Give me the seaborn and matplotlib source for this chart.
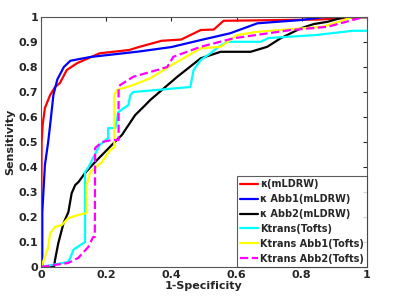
import pandas as pd
import seaborn as sns
import matplotlib.pyplot as plt

# ROC curves, (1-specificity, sensitivity)
red_x = [0, 0.001, 0.002, 0.005, 0.012, 0.028, 0.043, 0.058, 0.079, 0.11, 0.18, 0.27, 0.30, 0.37, 0.43, 0.49, 0.53, 0.56, 0.85, 1.0]
red_y = [0, 0.27, 0.50, 0.568, 0.636, 0.688, 0.72, 0.736, 0.788, 0.815, 0.855, 0.868, 0.88, 0.905, 0.91, 0.948, 0.95, 0.985, 0.99, 1.0]

blue_x = [0, 0.004, 0.004, 0.012, 0.022, 0.028, 0.038, 0.05, 0.07, 0.09, 0.15, 0.30, 0.40, 0.49, 0.58, 0.664, 0.797, 0.868, 1.0]
blue_y = [0, 0.0, 0.22, 0.408, 0.50, 0.568, 0.688, 0.75, 0.80, 0.825, 0.84, 0.862, 0.88, 0.908, 0.935, 0.975, 0.988, 1.0, 1.0]

black_x = [0, 0.04, 0.043, 0.053, 0.069, 0.084, 0.094, 0.105, 0.115, 0.135, 0.166, 0.217, 0.248, 0.289, 0.32, 0.335, 0.418, 0.49,
           0.551, 0.643, 0.694, 0.735, 0.797, 0.837, 0.879, 0.93, 1.0]
black_y = [0, 0.0, 0.028, 0.095, 0.175, 0.22, 0.295, 0.328, 0.34, 0.376, 0.42, 0.488, 0.528, 0.608, 0.648, 0.668, 0.761, 0.835,
           0.861, 0.861, 0.881, 0.915, 0.955, 0.972, 0.981, 1.0, 1.0]

cyan_x = [0, 0.083, 0.089, 0.10, 0.135, 0.135, 0.146, 0.18, 0.206, 0.206, 0.228, 0.237, 0.268, 0.274, 0.283, 0.458, 0.468,
          0.49, 0.52, 0.545, 0.571, 0.674, 0.698, 0.843, 0.956, 1.0]
cyan_y = [0, 0.02, 0.035, 0.07, 0.10, 0.38, 0.40, 0.488, 0.516, 0.556, 0.556, 0.62, 0.648, 0.688, 0.70, 0.72, 0.788,
          0.828, 0.855, 0.881, 0.901, 0.901, 0.916, 0.928, 0.945, 0.945]

yellow_x = [0, 0.012, 0.022, 0.028, 0.043, 0.064, 0.083, 0.114, 0.14, 0.14, 0.151, 0.187, 0.212, 0.225, 0.225, 0.233, 0.283,
            0.335, 0.376, 0.418, 0.49, 0.551, 0.602, 0.664, 0.864, 0.914, 0.956, 1.0]
yellow_y = [0, 0.04, 0.08, 0.135, 0.16, 0.168, 0.195, 0.208, 0.216, 0.328, 0.38, 0.42, 0.468, 0.48, 0.688, 0.708, 0.728,
            0.755, 0.788, 0.821, 0.875, 0.881, 0.928, 0.941, 0.961, 0.981, 1.0, 1.0]

mag_x = [0, 0.083, 0.114, 0.145, 0.16, 0.165, 0.166, 0.187, 0.217, 0.238, 0.238, 0.243, 0.283, 0.356, 0.387, 0.406, 0.49,
         0.59, 0.766, 0.879, 0.99, 1.0]
mag_y = [0, 0.016, 0.036, 0.08, 0.12, 0.12, 0.476, 0.50, 0.508, 0.508, 0.72, 0.728, 0.761, 0.788, 0.80, 0.841, 0.881,
         0.915, 0.948, 0.961, 1.0, 1.0]

names = ["κ(mLDRW)", "κ Abb1(mLDRW)", "κ Abb2(mLDRW)", "Ktrans(Tofts)", "Ktrans Abb1(Tofts)", "Ktrans Abb2(Tofts)"]
curves = [(red_x, red_y), (blue_x, blue_y), (black_x, black_y), (cyan_x, cyan_y), (yellow_x, yellow_y), (mag_x, mag_y)]
colors = ["#ff0000", "#0000ff", "#000000", "#00ffff", "#ffff00", "#ff00ff"]
styles = ["-", "-", "-", "-", "-", "--"]

sns.set_style("white")
plt.rcParams['font.family'] = ['DejaVu Sans']
plt.rcParams['font.weight'] = 'bold'

fig = plt.figure(figsize=(4, 2.99), dpi=100)
ax = fig.add_axes([0.1025, 0.107, 0.815, 0.836])

for name, (xs, ys), c, ls in zip(names, curves, colors, styles):
    df = pd.DataFrame({"fpr": xs, "tpr": ys})
    sns.lineplot(data=df, x="fpr", y="tpr", sort=False, estimator=None, color=c,
                 linestyle=ls, linewidth=1.6, label=name, ax=ax)

ax.set_xlim(0, 1)
ax.set_ylim(0, 1)
ax.set_xticks([0, 0.2, 0.4, 0.6, 0.8, 1])
ax.set_xticklabels(["0", "0.2", "0.4", "0.6", "0.8", "1"])
ax.set_yticks([i / 10 for i in range(11)])
ax.set_yticklabels(["0"] + [f"{i / 10:.1f}" for i in range(1, 10)] + ["1"])
ax.tick_params(direction="in", top=True, right=True, length=3, labelsize=8, pad=2)
for lab in ax.get_xticklabels() + ax.get_yticklabels():
    lab.set_fontweight("bold")
for s in ax.spines.values():
    s.set_color("#555555")
    s.set_linewidth(0.8)

ax.set_xlabel("1-Specificity", fontsize=8, fontweight="bold", labelpad=1)
ax.set_ylabel("Sensitivity", fontsize=8, fontweight="bold", labelpad=2)

leg = ax.legend(loc="lower right", prop={"weight": "bold", "size": 7}, handlelength=1.8,
                handletextpad=0.2, borderpad=0.35, labelspacing=0.5, borderaxespad=0.0,
                frameon=True, fancybox=False, edgecolor="#333333")
leg.get_frame().set_linewidth(0.8)

fig.savefig("out.png", dpi=100)
